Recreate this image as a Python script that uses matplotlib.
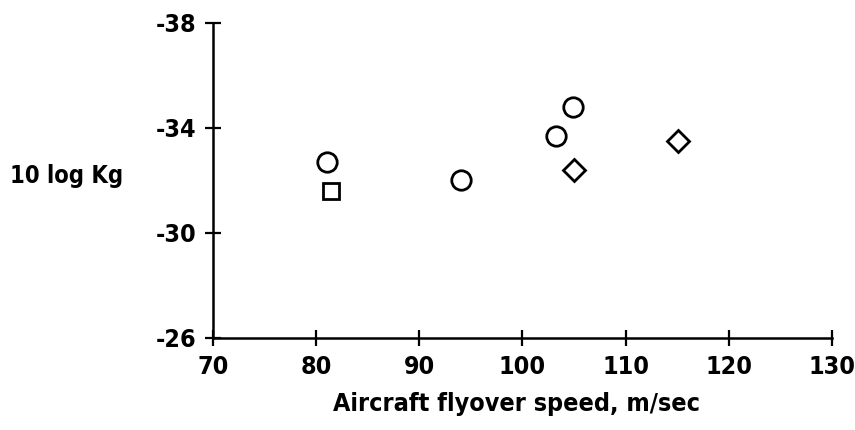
import matplotlib.pyplot as plt

# measured noise coefficients vs flyover speed, one list per symbol
circle_speed = [81.1, 94.0, 103.3, 104.9]
circle_level = [-32.7, -32.0, -33.7, -34.8]
square_speed = [81.4]
square_level = [-31.6]
diamond_speed = [105.0, 115.1]
diamond_level = [-32.4, -33.5]

x_ticks = [70, 80, 90, 100, 110, 120, 130]
y_ticks = [-38, -34, -30, -26]

plt.rcParams['font.family'] = ['DejaVu Sans']
plt.rcParams['font.stretch'] = 'condensed'
plt.rcParams['font.weight'] = 'bold'
plt.rcParams['axes.unicode_minus'] = False

fig = plt.figure(figsize=(8.55, 4.3), dpi=100)
ax = fig.add_axes([0.249, 0.214, 0.724, 0.733])

mk = dict(linestyle='none', markerfacecolor='white', markeredgecolor='black',
          markeredgewidth=2.0, clip_on=False)
ax.plot(circle_speed, circle_level, marker='o', markersize=14, **mk)
ax.plot(square_speed, square_level, marker='s', markersize=11, **mk)
ax.plot(diamond_speed, diamond_level, marker='D', markersize=11, **mk)

ax.set_xlim(70, 130)
ax.set_ylim(-26, -38)
ax.set_xticks(x_ticks)
ax.set_yticks(y_ticks)

for side in ['top', 'right']:
    ax.spines[side].set_visible(False)
for side in ['left', 'bottom']:
    ax.spines[side].set_linewidth(1.8)

ax.tick_params(direction='inout', length=12, width=1.6, labelsize=18, pad=6)
ax.tick_params(axis='x', pad=6)

ax.set_xlabel('Aircraft flyover speed, m/sec', fontsize=18, fontweight='bold')
ax.xaxis.set_label_coords(0.49, -0.17)

# horizontal y label to the left of the tick labels
fig.text(123 / 855, 1 - 183 / 430, '10 log Kg', fontsize=17, fontweight='bold',
         fontstretch='condensed', ha='right', va='baseline')

fig.savefig('out.png', dpi=100)
